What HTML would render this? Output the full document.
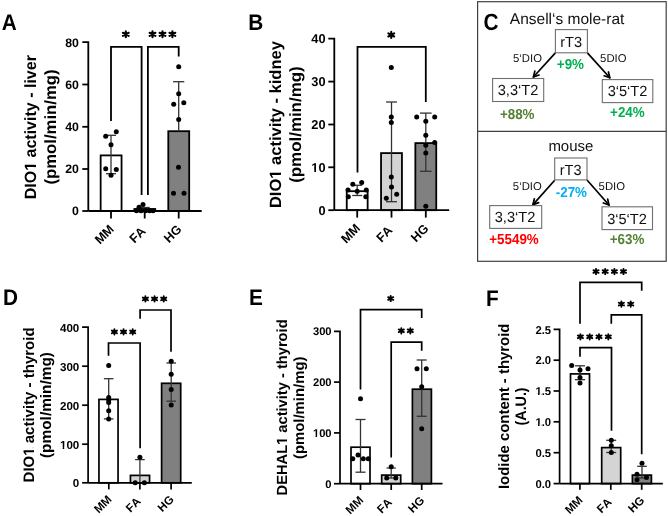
<!DOCTYPE html>
<html><head><meta charset="utf-8"><style>
html,body{margin:0;padding:0;background:#fff;}
svg{display:block;font-family:"Liberation Sans", sans-serif;will-change:transform;}
text{font-kerning:none;text-rendering:geometricPrecision;}
</style></head><body>
<svg width="668" height="516" viewBox="0 0 668 516">
<rect width="668" height="516" fill="#fff"/>
<rect x="100.65" y="155.4" width="20.9" height="55.6" fill="#fff" stroke="#000" stroke-width="1.8"/>
<rect x="134.35" y="209" width="20.9" height="2" fill="#d4d4d4" stroke="#000" stroke-width="1.8"/>
<rect x="168.3" y="131.2" width="20.9" height="79.8" fill="#808080" stroke="#000" stroke-width="1.8"/>
<line x1="111" y1="135.3" x2="111" y2="173.7" stroke="#333" stroke-width="1.3" stroke-linecap="butt"/>
<line x1="106" y1="135.3" x2="116" y2="135.3" stroke="#333" stroke-width="1.3" stroke-linecap="butt"/>
<line x1="106" y1="173.7" x2="116" y2="173.7" stroke="#333" stroke-width="1.3" stroke-linecap="butt"/>
<line x1="139.7" y1="207.5" x2="149.7" y2="207.5" stroke="#333" stroke-width="1.3" stroke-linecap="butt"/>
<line x1="178.7" y1="81.7" x2="178.7" y2="131.2" stroke="#333" stroke-width="1.3" stroke-linecap="butt"/>
<line x1="173.1" y1="81.7" x2="184.3" y2="81.7" stroke="#333" stroke-width="1.3" stroke-linecap="butt"/>
<polyline points="111,121 111,46.8 141.6,46.8 141.6,195" fill="none" stroke="#000" stroke-width="1.8" stroke-linejoin="miter"/>
<polyline points="147.9,195 147.9,46.8 178.7,46.8 178.7,56.5" fill="none" stroke="#000" stroke-width="1.8" stroke-linejoin="miter"/>
<polyline points="82.3,42.2 88.3,42.2 88.3,211" fill="none" stroke="#000" stroke-width="1.8" stroke-linejoin="miter"/>
<line x1="82.3" y1="211" x2="88.3" y2="211" stroke="#000" stroke-width="1.8" stroke-linecap="butt"/>
<line x1="82.3" y1="169" x2="88.3" y2="169" stroke="#000" stroke-width="1.8" stroke-linecap="butt"/>
<line x1="82.3" y1="126.8" x2="88.3" y2="126.8" stroke="#000" stroke-width="1.8" stroke-linecap="butt"/>
<line x1="82.3" y1="84.5" x2="88.3" y2="84.5" stroke="#000" stroke-width="1.8" stroke-linecap="butt"/>
<line x1="88.3" y1="211" x2="201.7" y2="211" stroke="#000" stroke-width="1.8" stroke-linecap="butt"/>
<line x1="111" y1="211" x2="111" y2="218.5" stroke="#000" stroke-width="1.8" stroke-linecap="butt"/>
<line x1="144.7" y1="211" x2="144.7" y2="218.5" stroke="#000" stroke-width="1.8" stroke-linecap="butt"/>
<line x1="178.7" y1="211" x2="178.7" y2="218.5" stroke="#000" stroke-width="1.8" stroke-linecap="butt"/>
<text x="78.9" y="215.46" font-size="12.3" font-weight="bold" text-anchor="end" fill="#000" >0</text>
<text x="78.9" y="173.46" font-size="12.3" font-weight="bold" text-anchor="end" fill="#000" >20</text>
<text x="78.9" y="131.25" font-size="12.3" font-weight="bold" text-anchor="end" fill="#000" >40</text>
<text x="78.9" y="88.96" font-size="12.3" font-weight="bold" text-anchor="end" fill="#000" >60</text>
<text x="78.9" y="46.66" font-size="12.3" font-weight="bold" text-anchor="end" fill="#000" >80</text>
<circle cx="105.7" cy="136.2" r="2.5" fill="#000"/>
<circle cx="116.3" cy="131.7" r="2.5" fill="#000"/>
<circle cx="111" cy="144.7" r="2.5" fill="#000"/>
<circle cx="105.7" cy="168.8" r="2.5" fill="#000"/>
<circle cx="116.3" cy="169.5" r="2.5" fill="#000"/>
<circle cx="111" cy="175.3" r="2.5" fill="#000"/>
<circle cx="143" cy="204.4" r="2.5" fill="#000"/>
<circle cx="139" cy="207.2" r="2.5" fill="#000"/>
<circle cx="136.5" cy="210.8" r="2.5" fill="#000"/>
<circle cx="141" cy="210.8" r="2.5" fill="#000"/>
<circle cx="145.5" cy="210.8" r="2.5" fill="#000"/>
<circle cx="149.5" cy="210.8" r="2.5" fill="#000"/>
<circle cx="153" cy="210.8" r="2.5" fill="#000"/>
<circle cx="178.7" cy="66.7" r="2.5" fill="#000"/>
<circle cx="178.7" cy="93.8" r="2.5" fill="#000"/>
<circle cx="173.7" cy="104.2" r="2.5" fill="#000"/>
<circle cx="183.8" cy="102.8" r="2.5" fill="#000"/>
<circle cx="178.7" cy="119.5" r="2.5" fill="#000"/>
<circle cx="178.5" cy="167.2" r="2.5" fill="#000"/>
<circle cx="173.5" cy="193.3" r="2.5" fill="#000"/>
<circle cx="184" cy="193.3" r="2.5" fill="#000"/>
<path d="M125.8,31.3L125.8,37.3M122.89,32.75L128.71,35.85M122.89,35.85L128.71,32.75" stroke="#000" stroke-width="2.1" stroke-linecap="round" fill="none"/>
<path d="M152.5,31.3L152.5,37.3M149.59,32.75L155.41,35.85M149.59,35.85L155.41,32.75" stroke="#000" stroke-width="2.1" stroke-linecap="round" fill="none"/>
<path d="M162.5,31.3L162.5,37.3M159.59,32.75L165.41,35.85M159.59,35.85L165.41,32.75" stroke="#000" stroke-width="2.1" stroke-linecap="round" fill="none"/>
<path d="M172.4,31.3L172.4,37.3M169.49,32.75L175.31,35.85M169.49,35.85L175.31,32.75" stroke="#000" stroke-width="2.1" stroke-linecap="round" fill="none"/>
<text transform="translate(114.78,229.98) rotate(-45)" x="0" y="0" font-size="12.6" font-weight="bold" text-anchor="end">MM</text>
<text transform="translate(146.48,231.98) rotate(-45)" x="0" y="0" font-size="12.6" font-weight="bold" text-anchor="end">FA</text>
<text transform="translate(182.38,230.08) rotate(-45)" x="0" y="0" font-size="12.6" font-weight="bold" text-anchor="end">HG</text>
<g transform="translate(36.3,127.2) rotate(-90)"><text x="0" y="0" font-size="16.3" font-weight="bold" text-anchor="middle" textLength="144.2" lengthAdjust="spacingAndGlyphs">DIO1 activity - liver</text><rect x="-42.93" y="-2.21" width="3.04" height="3.11" fill="#fff"/><rect x="-37.69" y="-2.21" width="2.84" height="3.11" fill="#fff"/></g>
<g transform="translate(56.2,127) rotate(-90)"><text x="0" y="0" font-size="16.3" font-weight="bold" text-anchor="middle" textLength="115" lengthAdjust="spacingAndGlyphs">(pmol/min/mg)</text></g>
<text transform="translate(1.8,29.7) scale(0.92,1)" x="0" y="0" font-size="22.6" font-weight="bold">A</text>
<rect x="346.75" y="191.2" width="20.9" height="19" fill="#fff" stroke="#000" stroke-width="1.8"/>
<rect x="381.05" y="153.1" width="20.9" height="57.1" fill="#d4d4d4" stroke="#000" stroke-width="1.8"/>
<rect x="415.35" y="143.1" width="20.9" height="67.1" fill="#808080" stroke="#000" stroke-width="1.8"/>
<line x1="357.2" y1="185.3" x2="357.2" y2="195.5" stroke="#333" stroke-width="1.3" stroke-linecap="butt"/>
<line x1="352.2" y1="185.3" x2="362.2" y2="185.3" stroke="#333" stroke-width="1.3" stroke-linecap="butt"/>
<line x1="352.2" y1="195.5" x2="362.2" y2="195.5" stroke="#333" stroke-width="1.3" stroke-linecap="butt"/>
<line x1="391.5" y1="102" x2="391.5" y2="201.7" stroke="#333" stroke-width="1.3" stroke-linecap="butt"/>
<line x1="386" y1="102" x2="397" y2="102" stroke="#333" stroke-width="1.3" stroke-linecap="butt"/>
<line x1="386" y1="201.7" x2="397" y2="201.7" stroke="#333" stroke-width="1.3" stroke-linecap="butt"/>
<line x1="425.8" y1="113.1" x2="425.8" y2="171.3" stroke="#333" stroke-width="1.3" stroke-linecap="butt"/>
<line x1="420" y1="113.1" x2="431.6" y2="113.1" stroke="#333" stroke-width="1.3" stroke-linecap="butt"/>
<line x1="420" y1="171.3" x2="431.6" y2="171.3" stroke="#333" stroke-width="1.3" stroke-linecap="butt"/>
<polyline points="357.5,172.5 357.5,46.8 425.8,46.8 425.8,102" fill="none" stroke="#000" stroke-width="1.8" stroke-linejoin="miter"/>
<polyline points="328.3,38.7 334.3,38.7 334.3,210.2" fill="none" stroke="#000" stroke-width="1.8" stroke-linejoin="miter"/>
<line x1="328.3" y1="210.2" x2="334.3" y2="210.2" stroke="#000" stroke-width="1.8" stroke-linecap="butt"/>
<line x1="328.3" y1="167.3" x2="334.3" y2="167.3" stroke="#000" stroke-width="1.8" stroke-linecap="butt"/>
<line x1="328.3" y1="124.5" x2="334.3" y2="124.5" stroke="#000" stroke-width="1.8" stroke-linecap="butt"/>
<line x1="328.3" y1="81.6" x2="334.3" y2="81.6" stroke="#000" stroke-width="1.8" stroke-linecap="butt"/>
<line x1="334.3" y1="210.2" x2="449.2" y2="210.2" stroke="#000" stroke-width="1.8" stroke-linecap="butt"/>
<line x1="357.2" y1="210.2" x2="357.2" y2="217.6" stroke="#000" stroke-width="1.8" stroke-linecap="butt"/>
<line x1="391.5" y1="210.2" x2="391.5" y2="217.6" stroke="#000" stroke-width="1.8" stroke-linecap="butt"/>
<line x1="425.8" y1="210.2" x2="425.8" y2="217.6" stroke="#000" stroke-width="1.8" stroke-linecap="butt"/>
<text x="325.5" y="214.78" font-size="12.8" font-weight="bold" text-anchor="end" fill="#000" >0</text>
<text x="325.5" y="171.88" font-size="12.8" font-weight="bold" text-anchor="end" fill="#000" >10</text>
<g transform="translate(325.5,171.88)"><rect x="-13.68" y="-1.86" width="2.43" height="2.76" fill="#fff"/><rect x="-9.49" y="-1.86" width="2.27" height="2.76" fill="#fff"/></g>
<text x="325.5" y="129.08" font-size="12.8" font-weight="bold" text-anchor="end" fill="#000" >20</text>
<text x="325.5" y="86.18" font-size="12.8" font-weight="bold" text-anchor="end" fill="#000" >30</text>
<text x="325.5" y="43.28" font-size="12.8" font-weight="bold" text-anchor="end" fill="#000" >40</text>
<circle cx="352.8" cy="184.2" r="2.5" fill="#000"/>
<circle cx="361.7" cy="182.5" r="2.5" fill="#000"/>
<circle cx="348" cy="190" r="2.5" fill="#000"/>
<circle cx="357.2" cy="191.3" r="2.5" fill="#000"/>
<circle cx="366.3" cy="190" r="2.5" fill="#000"/>
<circle cx="348.3" cy="196.7" r="2.5" fill="#000"/>
<circle cx="365.8" cy="196.7" r="2.5" fill="#000"/>
<circle cx="391.3" cy="67.5" r="2.5" fill="#000"/>
<circle cx="391.3" cy="117" r="2.5" fill="#000"/>
<circle cx="391.3" cy="122.5" r="2.5" fill="#000"/>
<circle cx="391.3" cy="177" r="2.5" fill="#000"/>
<circle cx="391.5" cy="187" r="2.5" fill="#000"/>
<circle cx="396.7" cy="194.2" r="2.5" fill="#000"/>
<circle cx="386.3" cy="198.3" r="2.5" fill="#000"/>
<circle cx="416.7" cy="117" r="2.5" fill="#000"/>
<circle cx="434.7" cy="117" r="2.5" fill="#000"/>
<circle cx="425.8" cy="121.2" r="2.5" fill="#000"/>
<circle cx="425.8" cy="135.3" r="2.5" fill="#000"/>
<circle cx="434.7" cy="142.5" r="2.5" fill="#000"/>
<circle cx="425.8" cy="145.3" r="2.5" fill="#000"/>
<circle cx="425.8" cy="153" r="2.5" fill="#000"/>
<circle cx="425.8" cy="206.3" r="2.5" fill="#000"/>
<path d="M391.25,31.9L391.25,37.9M388.34,33.35L394.16,36.45M388.34,36.45L394.16,33.35" stroke="#000" stroke-width="2.1" stroke-linecap="round" fill="none"/>
<text transform="translate(360.98,229.18) rotate(-45)" x="0" y="0" font-size="12.6" font-weight="bold" text-anchor="end">MM</text>
<text transform="translate(393.28,231.18) rotate(-45)" x="0" y="0" font-size="12.6" font-weight="bold" text-anchor="end">FA</text>
<text transform="translate(429.48,229.28) rotate(-45)" x="0" y="0" font-size="12.6" font-weight="bold" text-anchor="end">HG</text>
<g transform="translate(281.2,124.6) rotate(-90)"><text x="0" y="0" font-size="16.3" font-weight="bold" text-anchor="middle" textLength="167" lengthAdjust="spacingAndGlyphs">DIO1 activity - kidney</text><rect x="-53.43" y="-2.21" width="3.14" height="3.11" fill="#fff"/><rect x="-48.03" y="-2.21" width="2.93" height="3.11" fill="#fff"/></g>
<g transform="translate(300.7,124.6) rotate(-90)"><text x="0" y="0" font-size="16.3" font-weight="bold" text-anchor="middle" textLength="116.5" lengthAdjust="spacingAndGlyphs">(pmol/min/mg)</text></g>
<text transform="translate(248.3,30.4) scale(0.92,1)" x="0" y="0" font-size="22.6" font-weight="bold">B</text>
<rect x="98.95" y="399.4" width="19.1" height="83.4" fill="#fff" stroke="#000" stroke-width="1.7"/>
<rect x="130.45" y="475.4" width="19.1" height="7.4" fill="#d4d4d4" stroke="#000" stroke-width="1.7"/>
<rect x="161.6" y="383.3" width="19.1" height="99.5" fill="#808080" stroke="#000" stroke-width="1.7"/>
<line x1="108.7" y1="378.7" x2="108.7" y2="418.9" stroke="#333" stroke-width="1.3" stroke-linecap="butt"/>
<line x1="103.9" y1="378.7" x2="113.5" y2="378.7" stroke="#333" stroke-width="1.3" stroke-linecap="butt"/>
<line x1="103.9" y1="418.9" x2="113.5" y2="418.9" stroke="#333" stroke-width="1.3" stroke-linecap="butt"/>
<line x1="139.9" y1="459.6" x2="139.9" y2="483.2" stroke="#333" stroke-width="1.3" stroke-linecap="butt"/>
<line x1="135.1" y1="459.6" x2="144.7" y2="459.6" stroke="#333" stroke-width="1.3" stroke-linecap="butt"/>
<line x1="171.2" y1="363" x2="171.2" y2="401.2" stroke="#333" stroke-width="1.3" stroke-linecap="butt"/>
<line x1="166.4" y1="363" x2="176" y2="363" stroke="#333" stroke-width="1.3" stroke-linecap="butt"/>
<line x1="166.4" y1="401.2" x2="176" y2="401.2" stroke="#333" stroke-width="1.3" stroke-linecap="butt"/>
<polyline points="108.5,355.8 108.5,343 140.1,343 140.1,448.3" fill="none" stroke="#000" stroke-width="1.7" stroke-linejoin="miter"/>
<polyline points="140.1,318.8 140.1,310 171,310 171,351.7" fill="none" stroke="#000" stroke-width="1.7" stroke-linejoin="miter"/>
<polyline points="82.1,327.2 88.1,327.2 88.1,482.8" fill="none" stroke="#000" stroke-width="1.7" stroke-linejoin="miter"/>
<line x1="82.1" y1="482.8" x2="88.1" y2="482.8" stroke="#000" stroke-width="1.7" stroke-linecap="butt"/>
<line x1="82.1" y1="444.2" x2="88.1" y2="444.2" stroke="#000" stroke-width="1.7" stroke-linecap="butt"/>
<line x1="82.1" y1="405.2" x2="88.1" y2="405.2" stroke="#000" stroke-width="1.7" stroke-linecap="butt"/>
<line x1="82.1" y1="366.2" x2="88.1" y2="366.2" stroke="#000" stroke-width="1.7" stroke-linecap="butt"/>
<line x1="88.1" y1="482.8" x2="191.8" y2="482.8" stroke="#000" stroke-width="1.7" stroke-linecap="butt"/>
<line x1="108.8" y1="482.8" x2="108.8" y2="489.4" stroke="#000" stroke-width="1.7" stroke-linecap="butt"/>
<line x1="139.9" y1="482.8" x2="139.9" y2="489.4" stroke="#000" stroke-width="1.7" stroke-linecap="butt"/>
<line x1="171.1" y1="482.8" x2="171.1" y2="489.4" stroke="#000" stroke-width="1.7" stroke-linecap="butt"/>
<text x="79.3" y="487.21" font-size="11.6" font-weight="bold" text-anchor="end" fill="#000" >0</text>
<text x="79.3" y="448.61" font-size="11.6" font-weight="bold" text-anchor="end" fill="#000" >100</text>
<g transform="translate(79.3,448.61)"><rect x="-18.85" y="-1.73" width="2.2" height="2.63" fill="#fff"/><rect x="-15.06" y="-1.73" width="2.06" height="2.63" fill="#fff"/></g>
<text x="79.3" y="409.61" font-size="11.6" font-weight="bold" text-anchor="end" fill="#000" >200</text>
<text x="79.3" y="370.61" font-size="11.6" font-weight="bold" text-anchor="end" fill="#000" >300</text>
<text x="79.3" y="331.61" font-size="11.6" font-weight="bold" text-anchor="end" fill="#000" >400</text>
<circle cx="108.7" cy="365.5" r="2.5" fill="#000"/>
<circle cx="108.7" cy="397.5" r="2.5" fill="#000"/>
<circle cx="108.7" cy="400" r="2.5" fill="#000"/>
<circle cx="108.7" cy="402.5" r="2.5" fill="#000"/>
<circle cx="108.7" cy="410.8" r="2.5" fill="#000"/>
<circle cx="108.7" cy="418.9" r="2.5" fill="#000"/>
<circle cx="139.9" cy="457.3" r="2.5" fill="#000"/>
<circle cx="135.2" cy="482.8" r="2.5" fill="#000"/>
<circle cx="144.4" cy="482.8" r="2.5" fill="#000"/>
<circle cx="171.2" cy="361.3" r="2.5" fill="#000"/>
<circle cx="171.2" cy="374.2" r="2.5" fill="#000"/>
<circle cx="171.2" cy="389.5" r="2.5" fill="#000"/>
<circle cx="171.2" cy="405" r="2.5" fill="#000"/>
<path d="M114.4,329.25L114.4,334.55M111.84,330.54L116.96,333.26M111.84,333.26L116.96,330.54" stroke="#000" stroke-width="1.9" stroke-linecap="round" fill="none"/>
<path d="M123.55,329.25L123.55,334.55M120.99,330.54L126.11,333.26M120.99,333.26L126.11,330.54" stroke="#000" stroke-width="1.9" stroke-linecap="round" fill="none"/>
<path d="M132.7,329.25L132.7,334.55M130.14,330.54L135.26,333.26M130.14,333.26L135.26,330.54" stroke="#000" stroke-width="1.9" stroke-linecap="round" fill="none"/>
<path d="M145.4,296.25L145.4,301.55M142.84,297.54L147.96,300.26M142.84,300.26L147.96,297.54" stroke="#000" stroke-width="1.9" stroke-linecap="round" fill="none"/>
<path d="M154.55,296.25L154.55,301.55M151.99,297.54L157.11,300.26M151.99,300.26L157.11,297.54" stroke="#000" stroke-width="1.9" stroke-linecap="round" fill="none"/>
<path d="M163.7,296.25L163.7,301.55M161.14,297.54L166.26,300.26M161.14,300.26L166.26,297.54" stroke="#000" stroke-width="1.9" stroke-linecap="round" fill="none"/>
<text transform="translate(112.33,500.13) rotate(-45)" x="0" y="0" font-size="11.6" font-weight="bold" text-anchor="end">MM</text>
<text transform="translate(141.43,502.13) rotate(-45)" x="0" y="0" font-size="11.6" font-weight="bold" text-anchor="end">FA</text>
<text transform="translate(174.53,500.23) rotate(-45)" x="0" y="0" font-size="11.6" font-weight="bold" text-anchor="end">HG</text>
<g transform="translate(34.2,404.9) rotate(-90)"><text x="0" y="0" font-size="15.2" font-weight="bold" text-anchor="middle" textLength="155" lengthAdjust="spacingAndGlyphs">DIO1 activity - thyroid</text><rect x="-50.19" y="-2.1" width="2.85" height="3" fill="#fff"/><rect x="-45.28" y="-2.1" width="2.66" height="3" fill="#fff"/></g>
<g transform="translate(51.3,405) rotate(-90)"><text x="0" y="0" font-size="15.2" font-weight="bold" text-anchor="middle" textLength="106" lengthAdjust="spacingAndGlyphs">(pmol/min/mg)</text></g>
<text transform="translate(3,305.4) scale(0.92,1)" x="0" y="0" font-size="22.6" font-weight="bold">D</text>
<rect x="351" y="447.2" width="19" height="36.5" fill="#fff" stroke="#000" stroke-width="1.7"/>
<rect x="381.7" y="475.1" width="19" height="8.6" fill="#d4d4d4" stroke="#000" stroke-width="1.7"/>
<rect x="412.4" y="389.2" width="19" height="94.5" fill="#808080" stroke="#000" stroke-width="1.7"/>
<line x1="360.5" y1="419.5" x2="360.5" y2="472.2" stroke="#333" stroke-width="1.3" stroke-linecap="butt"/>
<line x1="355.5" y1="419.5" x2="365.5" y2="419.5" stroke="#333" stroke-width="1.3" stroke-linecap="butt"/>
<line x1="355.5" y1="472.2" x2="365.5" y2="472.2" stroke="#333" stroke-width="1.3" stroke-linecap="butt"/>
<line x1="391.2" y1="468" x2="391.2" y2="478" stroke="#333" stroke-width="1.3" stroke-linecap="butt"/>
<line x1="386.6" y1="468" x2="395.8" y2="468" stroke="#333" stroke-width="1.3" stroke-linecap="butt"/>
<line x1="386.6" y1="478" x2="395.8" y2="478" stroke="#333" stroke-width="1.3" stroke-linecap="butt"/>
<line x1="421.7" y1="360" x2="421.7" y2="416.3" stroke="#333" stroke-width="1.3" stroke-linecap="butt"/>
<line x1="416.7" y1="360" x2="426.7" y2="360" stroke="#333" stroke-width="1.3" stroke-linecap="butt"/>
<line x1="416.7" y1="416.3" x2="426.7" y2="416.3" stroke="#333" stroke-width="1.3" stroke-linecap="butt"/>
<polyline points="360.5,389.5 360.5,309.6 421.7,309.6 421.7,318" fill="none" stroke="#000" stroke-width="1.7" stroke-linejoin="miter"/>
<polyline points="391.2,457.5 391.2,342.1 421.7,342.1 421.7,350.8" fill="none" stroke="#000" stroke-width="1.7" stroke-linejoin="miter"/>
<polyline points="334,331.3 340,331.3 340,483.7" fill="none" stroke="#000" stroke-width="1.7" stroke-linejoin="miter"/>
<line x1="334" y1="483.7" x2="340" y2="483.7" stroke="#000" stroke-width="1.7" stroke-linecap="butt"/>
<line x1="334" y1="432.9" x2="340" y2="432.9" stroke="#000" stroke-width="1.7" stroke-linecap="butt"/>
<line x1="334" y1="382.1" x2="340" y2="382.1" stroke="#000" stroke-width="1.7" stroke-linecap="butt"/>
<line x1="340" y1="483.7" x2="442.5" y2="483.7" stroke="#000" stroke-width="1.7" stroke-linecap="butt"/>
<line x1="360.5" y1="483.7" x2="360.5" y2="490" stroke="#000" stroke-width="1.7" stroke-linecap="butt"/>
<line x1="391.2" y1="483.7" x2="391.2" y2="490" stroke="#000" stroke-width="1.7" stroke-linecap="butt"/>
<line x1="421.7" y1="483.7" x2="421.7" y2="490" stroke="#000" stroke-width="1.7" stroke-linecap="butt"/>
<text x="331.6" y="487.62" font-size="11.2" font-weight="bold" text-anchor="end" fill="#000" >0</text>
<text x="331.6" y="436.82" font-size="11.2" font-weight="bold" text-anchor="end" fill="#000" >100</text>
<g transform="translate(331.6,436.82)"><rect x="-18.2" y="-1.69" width="2.13" height="2.59" fill="#fff"/><rect x="-14.54" y="-1.69" width="1.99" height="2.59" fill="#fff"/></g>
<text x="331.6" y="386.02" font-size="11.2" font-weight="bold" text-anchor="end" fill="#000" >200</text>
<text x="331.6" y="335.22" font-size="11.2" font-weight="bold" text-anchor="end" fill="#000" >300</text>
<circle cx="360.5" cy="398.7" r="2.5" fill="#000"/>
<circle cx="352.8" cy="458.7" r="2.5" fill="#000"/>
<circle cx="358" cy="455" r="2.5" fill="#000"/>
<circle cx="363.3" cy="458.7" r="2.5" fill="#000"/>
<circle cx="368.3" cy="458.7" r="2.5" fill="#000"/>
<circle cx="391.2" cy="466.7" r="2.5" fill="#000"/>
<circle cx="386.7" cy="478" r="2.5" fill="#000"/>
<circle cx="395.8" cy="478" r="2.5" fill="#000"/>
<circle cx="417" cy="368.7" r="2.5" fill="#000"/>
<circle cx="426.3" cy="368.7" r="2.5" fill="#000"/>
<circle cx="421.7" cy="386.7" r="2.5" fill="#000"/>
<circle cx="421.7" cy="428.7" r="2.5" fill="#000"/>
<path d="M390.7,295.85L390.7,301.15M388.14,297.14L393.26,299.86M388.14,299.86L393.26,297.14" stroke="#000" stroke-width="1.9" stroke-linecap="round" fill="none"/>
<path d="M401.3,328.15L401.3,333.45M398.74,329.44L403.86,332.16M398.74,332.16L403.86,329.44" stroke="#000" stroke-width="1.9" stroke-linecap="round" fill="none"/>
<path d="M410.3,328.15L410.3,333.45M407.74,329.44L412.86,332.16M407.74,332.16L412.86,329.44" stroke="#000" stroke-width="1.9" stroke-linecap="round" fill="none"/>
<text transform="translate(364.03,501.03) rotate(-45)" x="0" y="0" font-size="11.6" font-weight="bold" text-anchor="end">MM</text>
<text transform="translate(392.73,503.03) rotate(-45)" x="0" y="0" font-size="11.6" font-weight="bold" text-anchor="end">FA</text>
<text transform="translate(425.13,501.13) rotate(-45)" x="0" y="0" font-size="11.6" font-weight="bold" text-anchor="end">HG</text>
<g transform="translate(287,407.4) rotate(-90)"><text x="0" y="0" font-size="14.7" font-weight="bold" text-anchor="middle" textLength="176" lengthAdjust="spacingAndGlyphs">DEHAL1 activity - thyroid</text><rect x="-36.85" y="-2.05" width="2.79" height="2.95" fill="#fff"/><rect x="-32.06" y="-2.05" width="2.6" height="2.95" fill="#fff"/></g>
<g transform="translate(304.3,407.8) rotate(-90)"><text x="0" y="0" font-size="14.7" font-weight="bold" text-anchor="middle" textLength="102.5" lengthAdjust="spacingAndGlyphs">(pmol/min/mg)</text></g>
<text transform="translate(249,305.4) scale(0.92,1)" x="0" y="0" font-size="22.6" font-weight="bold">E</text>
<rect x="570.5" y="373.9" width="19" height="109.7" fill="#fff" stroke="#000" stroke-width="1.7"/>
<rect x="601.7" y="447.6" width="19" height="36" fill="#d4d4d4" stroke="#000" stroke-width="1.7"/>
<rect x="632.4" y="475.1" width="19" height="8.5" fill="#808080" stroke="#000" stroke-width="1.7"/>
<line x1="580" y1="365.8" x2="580" y2="379.7" stroke="#333" stroke-width="1.3" stroke-linecap="butt"/>
<line x1="575" y1="365.8" x2="585" y2="365.8" stroke="#333" stroke-width="1.3" stroke-linecap="butt"/>
<line x1="575" y1="379.7" x2="585" y2="379.7" stroke="#333" stroke-width="1.3" stroke-linecap="butt"/>
<line x1="611.2" y1="440.3" x2="611.2" y2="452.5" stroke="#333" stroke-width="1.3" stroke-linecap="butt"/>
<line x1="606.2" y1="440.3" x2="616.2" y2="440.3" stroke="#333" stroke-width="1.3" stroke-linecap="butt"/>
<line x1="606.2" y1="452.5" x2="616.2" y2="452.5" stroke="#333" stroke-width="1.3" stroke-linecap="butt"/>
<line x1="642" y1="466.3" x2="642" y2="478" stroke="#333" stroke-width="1.3" stroke-linecap="butt"/>
<line x1="637.2" y1="466.3" x2="646.8" y2="466.3" stroke="#333" stroke-width="1.3" stroke-linecap="butt"/>
<line x1="637.2" y1="478" x2="646.8" y2="478" stroke="#333" stroke-width="1.3" stroke-linecap="butt"/>
<polyline points="580,323.8 580,282.3 641.7,282.3 641.7,290.8" fill="none" stroke="#000" stroke-width="1.7" stroke-linejoin="miter"/>
<polyline points="611.3,323.8 611.3,314.8 641.7,314.8 641.7,454.2" fill="none" stroke="#000" stroke-width="1.7" stroke-linejoin="miter"/>
<polyline points="580,356.7 580,347.6 611.5,347.6 611.5,430.8" fill="none" stroke="#000" stroke-width="1.7" stroke-linejoin="miter"/>
<polyline points="553.6,329.3 559.6,329.3 559.6,483.6" fill="none" stroke="#000" stroke-width="1.7" stroke-linejoin="miter"/>
<line x1="553.6" y1="483.6" x2="559.6" y2="483.6" stroke="#000" stroke-width="1.7" stroke-linecap="butt"/>
<line x1="553.6" y1="452.7" x2="559.6" y2="452.7" stroke="#000" stroke-width="1.7" stroke-linecap="butt"/>
<line x1="553.6" y1="421.8" x2="559.6" y2="421.8" stroke="#000" stroke-width="1.7" stroke-linecap="butt"/>
<line x1="553.6" y1="391" x2="559.6" y2="391" stroke="#000" stroke-width="1.7" stroke-linecap="butt"/>
<line x1="553.6" y1="360.2" x2="559.6" y2="360.2" stroke="#000" stroke-width="1.7" stroke-linecap="butt"/>
<line x1="559.6" y1="483.6" x2="662.8" y2="483.6" stroke="#000" stroke-width="1.7" stroke-linecap="butt"/>
<line x1="579.9" y1="483.6" x2="579.9" y2="489.8" stroke="#000" stroke-width="1.7" stroke-linecap="butt"/>
<line x1="610.8" y1="483.6" x2="610.8" y2="489.8" stroke="#000" stroke-width="1.7" stroke-linecap="butt"/>
<line x1="641.7" y1="483.6" x2="641.7" y2="489.8" stroke="#000" stroke-width="1.7" stroke-linecap="butt"/>
<text x="551.1" y="487.81" font-size="11.3" font-weight="bold" text-anchor="end" fill="#000" >0.0</text>
<text x="551.1" y="456.9" font-size="11.3" font-weight="bold" text-anchor="end" fill="#000" >0.5</text>
<text x="551.1" y="426" font-size="11.3" font-weight="bold" text-anchor="end" fill="#000" >1.0</text>
<g transform="translate(551.1,426)"><rect x="-15.22" y="-1.7" width="2.15" height="2.6" fill="#fff"/><rect x="-11.52" y="-1.7" width="2" height="2.6" fill="#fff"/></g>
<text x="551.1" y="395.2" font-size="11.3" font-weight="bold" text-anchor="end" fill="#000" >1.5</text>
<g transform="translate(551.1,395.2)"><rect x="-15.22" y="-1.7" width="2.15" height="2.6" fill="#fff"/><rect x="-11.52" y="-1.7" width="2" height="2.6" fill="#fff"/></g>
<text x="551.1" y="364.4" font-size="11.3" font-weight="bold" text-anchor="end" fill="#000" >2.0</text>
<text x="551.1" y="333.5" font-size="11.3" font-weight="bold" text-anchor="end" fill="#000" >2.5</text>
<circle cx="571.7" cy="365.5" r="2.5" fill="#000"/>
<circle cx="588" cy="368.7" r="2.5" fill="#000"/>
<circle cx="580" cy="370" r="2.5" fill="#000"/>
<circle cx="580" cy="377.5" r="2.5" fill="#000"/>
<circle cx="580" cy="383" r="2.5" fill="#000"/>
<circle cx="611.3" cy="440.3" r="2.5" fill="#000"/>
<circle cx="611.3" cy="445.8" r="2.5" fill="#000"/>
<circle cx="611.3" cy="452.5" r="2.5" fill="#000"/>
<circle cx="642" cy="463.3" r="2.5" fill="#000"/>
<circle cx="637" cy="474.2" r="2.5" fill="#000"/>
<circle cx="637" cy="479.7" r="2.5" fill="#000"/>
<circle cx="646.5" cy="477.5" r="2.5" fill="#000"/>
<path d="M596,268.85L596,274.15M593.44,270.14L598.56,272.86M593.44,272.86L598.56,270.14" stroke="#000" stroke-width="1.9" stroke-linecap="round" fill="none"/>
<path d="M605.2,268.85L605.2,274.15M602.64,270.14L607.76,272.86M602.64,272.86L607.76,270.14" stroke="#000" stroke-width="1.9" stroke-linecap="round" fill="none"/>
<path d="M614.4,268.85L614.4,274.15M611.84,270.14L616.96,272.86M611.84,272.86L616.96,270.14" stroke="#000" stroke-width="1.9" stroke-linecap="round" fill="none"/>
<path d="M623.5,268.85L623.5,274.15M620.94,270.14L626.06,272.86M620.94,272.86L626.06,270.14" stroke="#000" stroke-width="1.9" stroke-linecap="round" fill="none"/>
<path d="M621.4,301.45L621.4,306.75M618.84,302.74L623.96,305.46M618.84,305.46L623.96,302.74" stroke="#000" stroke-width="1.9" stroke-linecap="round" fill="none"/>
<path d="M630.7,301.45L630.7,306.75M628.14,302.74L633.26,305.46M628.14,305.46L633.26,302.74" stroke="#000" stroke-width="1.9" stroke-linecap="round" fill="none"/>
<path d="M580.4,334.15L580.4,339.45M577.84,335.44L582.96,338.16M577.84,338.16L582.96,335.44" stroke="#000" stroke-width="1.9" stroke-linecap="round" fill="none"/>
<path d="M589.7,334.15L589.7,339.45M587.14,335.44L592.26,338.16M587.14,338.16L592.26,335.44" stroke="#000" stroke-width="1.9" stroke-linecap="round" fill="none"/>
<path d="M599,334.15L599,339.45M596.44,335.44L601.56,338.16M596.44,338.16L601.56,335.44" stroke="#000" stroke-width="1.9" stroke-linecap="round" fill="none"/>
<path d="M608.3,334.15L608.3,339.45M605.74,335.44L610.86,338.16M605.74,338.16L610.86,335.44" stroke="#000" stroke-width="1.9" stroke-linecap="round" fill="none"/>
<text transform="translate(583.43,500.93) rotate(-45)" x="0" y="0" font-size="11.6" font-weight="bold" text-anchor="end">MM</text>
<text transform="translate(612.33,502.93) rotate(-45)" x="0" y="0" font-size="11.6" font-weight="bold" text-anchor="end">FA</text>
<text transform="translate(645.13,501.03) rotate(-45)" x="0" y="0" font-size="11.6" font-weight="bold" text-anchor="end">HG</text>
<g transform="translate(508.7,406.3) rotate(-90)"><text x="0" y="0" font-size="15" font-weight="bold" text-anchor="middle" textLength="165.5" lengthAdjust="spacingAndGlyphs">Iodide content - thyroid</text></g>
<g transform="translate(525.8,406.4) rotate(-90)"><text x="0" y="0" font-size="15.2" font-weight="bold" text-anchor="middle" textLength="38" lengthAdjust="spacingAndGlyphs">(A.U.)</text></g>
<text transform="translate(486.1,305.5) scale(0.92,1)" x="0" y="0" font-size="22.6" font-weight="bold">F</text>
<rect x="477.6" y="1.7" width="188.6" height="259.6" fill="none" stroke="#404040" stroke-width="1.2"/>
<line x1="477.6" y1="131.3" x2="666.2" y2="131.3" stroke="#404040" stroke-width="1.2" stroke-linecap="butt"/>
<text transform="translate(483.4,30.2) scale(0.89,1)" x="0" y="0" font-size="23.4" font-weight="bold">C</text>
<text x="567.1" y="23.9" font-size="15.5" font-weight="normal" text-anchor="middle" fill="#111" >Ansell&#8216;s mole-rat</text>
<text x="570.9" y="150.8" font-size="15" font-weight="normal" text-anchor="middle" fill="#111" >mouse</text>
<line x1="555.4" y1="52.9" x2="533.4" y2="77" stroke="#000" stroke-width="1.7" stroke-linecap="butt"/>
<line x1="533.4" y1="77" x2="539.07" y2="75.05" stroke="#000" stroke-width="1.7" stroke-linecap="round"/>
<line x1="533.4" y1="77" x2="534.83" y2="71.17" stroke="#000" stroke-width="1.7" stroke-linecap="round"/>
<line x1="587.4" y1="52.9" x2="609.8" y2="77.8" stroke="#000" stroke-width="1.7" stroke-linecap="butt"/>
<line x1="609.8" y1="77.8" x2="608.42" y2="71.96" stroke="#000" stroke-width="1.7" stroke-linecap="round"/>
<line x1="609.8" y1="77.8" x2="604.14" y2="75.81" stroke="#000" stroke-width="1.7" stroke-linecap="round"/>
<rect x="555.4" y="29.6" width="32" height="23.2" fill="#fff" stroke="#6f6f6f" stroke-width="1.1"/>
<text x="571.2" y="47.1" font-size="14.6" font-weight="normal" text-anchor="middle" fill="#111" >rT3</text>
<rect x="492.6" y="78.5" width="51.1" height="23" fill="#fff" stroke="#6f6f6f" stroke-width="1.1"/>
<text x="518" y="95" font-size="14.6" font-weight="normal" text-anchor="middle" fill="#111" >3,3&#8216;T2</text>
<rect x="602.3" y="79.6" width="50.5" height="23" fill="#fff" stroke="#6f6f6f" stroke-width="1.1"/>
<text x="627.5" y="96.3" font-size="14.6" font-weight="normal" text-anchor="middle" fill="#111" >3&#8216;5&#8216;T2</text>
<text x="527.5" y="62" font-size="11.3" font-weight="normal" text-anchor="middle" fill="#111" >5&#8216;DIO</text>
<text x="613.3" y="61.7" font-size="11.3" font-weight="normal" text-anchor="middle" fill="#111" >5DIO</text>
<text transform="translate(570.4,69.2) scale(0.93,1)" x="0" y="0" font-size="14.4" font-weight="bold" text-anchor="middle" fill="#00b050">+9%</text>
<text transform="translate(517.2,118.5) scale(0.93,1)" x="0" y="0" font-size="14.4" font-weight="bold" text-anchor="middle" fill="#548235">+88%</text>
<text transform="translate(627.4,117.4) scale(0.93,1)" x="0" y="0" font-size="14.4" font-weight="bold" text-anchor="middle" fill="#00b050">+24%</text>
<line x1="554.7" y1="180.2" x2="533" y2="204.6" stroke="#000" stroke-width="1.7" stroke-linecap="butt"/>
<line x1="533" y1="204.6" x2="538.65" y2="202.58" stroke="#000" stroke-width="1.7" stroke-linecap="round"/>
<line x1="533" y1="204.6" x2="534.35" y2="198.75" stroke="#000" stroke-width="1.7" stroke-linecap="round"/>
<line x1="587" y1="180" x2="609" y2="205" stroke="#000" stroke-width="1.7" stroke-linecap="butt"/>
<line x1="609" y1="205" x2="607.68" y2="199.15" stroke="#000" stroke-width="1.7" stroke-linecap="round"/>
<line x1="609" y1="205" x2="603.36" y2="202.95" stroke="#000" stroke-width="1.7" stroke-linecap="round"/>
<rect x="554.7" y="158" width="32.3" height="21.9" fill="#fff" stroke="#6f6f6f" stroke-width="1.1"/>
<text x="570.6" y="174.7" font-size="14.6" font-weight="normal" text-anchor="middle" fill="#111" >rT3</text>
<rect x="489.7" y="205.6" width="52" height="22.8" fill="#fff" stroke="#6f6f6f" stroke-width="1.1"/>
<text x="515" y="222" font-size="14.6" font-weight="normal" text-anchor="middle" fill="#111" >3,3&#8216;T2</text>
<rect x="602" y="206.8" width="50.5" height="22.8" fill="#fff" stroke="#6f6f6f" stroke-width="1.1"/>
<text x="627" y="223.8" font-size="14.6" font-weight="normal" text-anchor="middle" fill="#111" >3&#8216;5&#8216;T2</text>
<text x="527.3" y="189.5" font-size="11.3" font-weight="normal" text-anchor="middle" fill="#111" >5&#8216;DIO</text>
<text x="611.8" y="189.5" font-size="11.3" font-weight="normal" text-anchor="middle" fill="#111" >5DIO</text>
<text transform="translate(571.4,196.5) scale(0.93,1)" x="0" y="0" font-size="14.4" font-weight="bold" text-anchor="middle" fill="#00b0f0">-27%</text>
<text transform="translate(514,244.4) scale(0.93,1)" x="0" y="0" font-size="14.4" font-weight="bold" text-anchor="middle" fill="#ff0000">+5549%</text>
<text transform="translate(627,244.1) scale(0.93,1)" x="0" y="0" font-size="14.4" font-weight="bold" text-anchor="middle" fill="#548235">+63%</text>
</svg>
</body></html>
